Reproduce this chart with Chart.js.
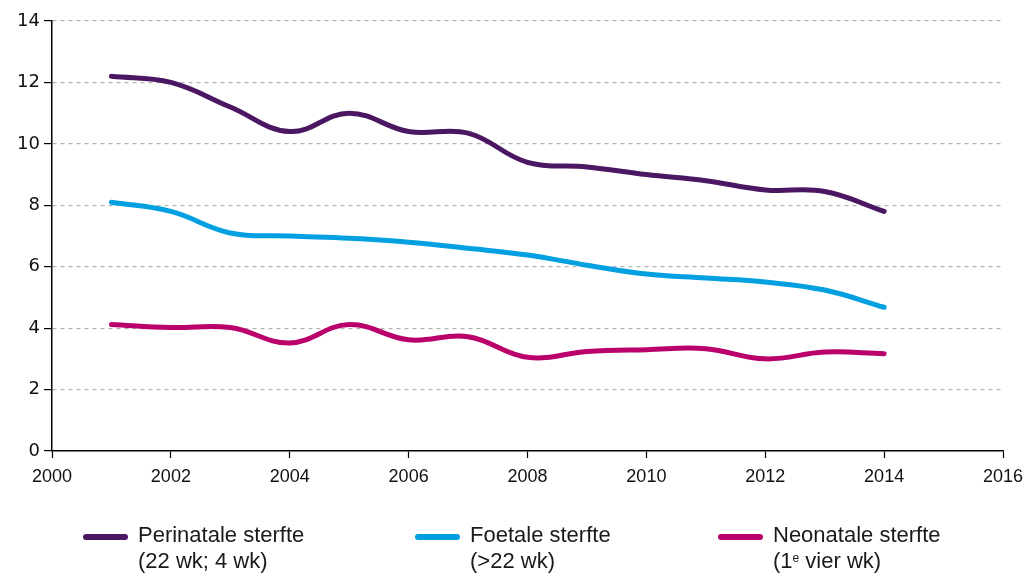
<!DOCTYPE html>
<html>
<head>
<meta charset="utf-8">
<script src="https://cdn.jsdelivr.net/npm/chart.js@4/dist/chart.umd.min.js"></script>
<style>
html,body{margin:0;padding:0;background:#fff;}
#wrap{position:relative;width:1024px;height:575px;}
#legend{position:absolute;left:0;top:520px;width:1024px;height:55px;font-family:"Liberation Sans",sans-serif;font-size:22px;color:#1a1a1a;}
.item{position:absolute;top:0;line-height:26px;}
.sym{position:absolute;top:14px;width:45px;height:6px;border-radius:3px;}
.txt{position:absolute;white-space:nowrap;}
sup{font-size:12px;vertical-align:top;position:relative;top:-3px;}
</style>
</head>
<body>
<div id="wrap">
<canvas id="chart" width="1024" height="575"></canvas>
<div id="legend"></div>
</div>
<script>

const years = [2001,2002,2003,2004,2005,2006,2007,2008,2009,2010,2011,2012,2013,2014]
const perinatal = [12.2,12.0,11.2,10.4,11.0,10.4,10.35,9.4,9.25,9.0,8.8,8.5,8.45,7.8]
const foetal = [8.1,7.8,7.1,7.0,6.93,6.8,6.6,6.38,6.05,5.76,5.63,5.5,5.24,4.68]
const neonatal = [4.12,4.02,4.02,3.52,4.12,3.62,3.72,3.05,3.24,3.3,3.33,3.0,3.22,3.17]
const xTicks = [2000,2002,2004,2006,2008,2010,2012,2014,2016]
const yTicks = [0,2,4,6,8,10,12,14]

const series = [
{label:"Perinatale sterfte", sub:"(22 wk; 4 wk)", data:perinatal, color:"#4b1763", left:83},
{label:"Foetale sterfte", sub:"(&gt;22 wk)", data:foetal, color:"#02a0e1", left:415},
{label:"Neonatale sterfte", sub:"(1<sup>e</sup> vier wk)", data:neonatal, color:"#b9006b", left:718}
]

function toPoints(values){
return years.map((y,i) => ({x:y, y:values[i]}))
}

new Chart(
document.getElementById("chart"),
{
type:"line",
data:{
datasets:series.map(s => ({
label:s.label,
data:toPoints(s.data),
borderColor:s.color,
backgroundColor:s.color,
borderWidth:5,
borderCapStyle:"round",
pointRadius:0,
tension:0.4,
fill:false
}))
},
options:{
responsive:false,
animation:false,
layout:{padding:{top:21,right:21,left:0,bottom:85}},
plugins:{legend:{display:false},tooltip:{enabled:false}},
scales:{
x:{
type:"linear",
min:2000,
max:2016,
afterBuildTicks:axis => { axis.ticks = xTicks.map(v => ({value:v})) },
afterFit:axis => { axis.height = 39; axis.paddingLeft = 0; axis.paddingRight = 0 },
border:{display:true,color:"#000",width:1.5},
grid:{drawOnChartArea:false,drawTicks:true,tickLength:7,tickColor:"#000",tickWidth:1.2},
ticks:{color:"#111",font:{family:"'Liberation Sans',sans-serif",size:18},padding:8,callback:v => String(v),maxRotation:0}
},
y:{
min:0,
max:14,
afterBuildTicks:axis => { axis.ticks = yTicks.map(v => ({value:v})) },
afterFit:axis => { axis.width = 52; axis.paddingTop = 0; axis.paddingBottom = 0 },
border:{display:true,color:"#000",width:1.5,dash:[4,4]},
grid:{
color:ctx => ctx.tick && ctx.tick.value === 0 ? "rgba(0,0,0,0)" : "#b3b3b3",
lineWidth:1.2,
drawTicks:true,
tickLength:8,
tickColor:"#000",
tickWidth:1.2,
tickBorderDash:[]
},
ticks:{color:"#111",font:{family:"'DejaVu Sans',sans-serif",size:18},padding:4}
}
}
}
}
)

const legend = document.getElementById("legend")
series.forEach(s => {
const item = document.createElement("div")
item.className = "item"
item.style.left = s.left + "px"
item.innerHTML = `
<span class="sym" style="background:${s.color}"></span>
<span class="txt" style="left:55px;top:2px">${s.label}<br>${s.sub}</span>
`
legend.appendChild(item)
})

</script>
</body>
</html>
